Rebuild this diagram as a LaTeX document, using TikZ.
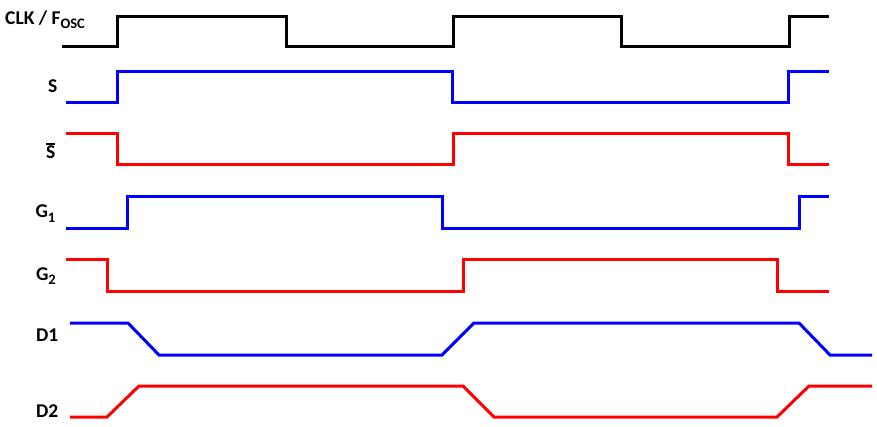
\documentclass[tikz,border=0pt]{standalone}
\usepackage{fontspec}
\setmainfont{Carlito}
\newcommand{\mysub}[1]{\raisebox{-4.5pt}{\fontsize{14.5}{15}\selectfont #1}}
\newcommand{\mybar}[1]{{\setbox0\hbox{#1}\rlap{\rule[\dimexpr\ht0+1.6pt]{\wd0}{1.9pt}}#1}}
\begin{document}
\begin{tikzpicture}[x=1pt,y=-1pt,
  sig/.style={line width=3pt, line join=miter},
  lbl/.style={font=\bfseries\fontsize{19.5}{21}\selectfont, anchor=base east, inner sep=0pt}]
\useasboundingbox (0,0) rectangle (877,427);
% labels
\node[lbl, anchor=base west] (lclk) at (5,24.3) {CLK / F\mysub{OSC}};
\node[lbl] (ls) at (57.5,93) {S};
\node[lbl] (lsb) at (55.5,159) {\mybar{S}};
\node[lbl] (lg1) at (55.5,218) {G\mysub{1}};
\node[lbl] (lg2) at (56,280) {G\mysub{2}};
\node[lbl] (ld1) at (58.5,341) {D1};
\node[lbl] (ld2) at (58.5,417) {D2};
% waveforms
\draw[sig, black] (62,47) -| (117,17) -| (286,47) -| (453,17) -| (621,47) -| (789,17) -- (829,17);
\draw[sig, blue] (66,103) -| (117,72) -| (452,103) -| (788,72) -- (829,72);
\draw[sig, red] (66,134) -| (117,165) -| (453,134) -| (788,165) -- (829,165);
\draw[sig, blue] (66,229) -| (127,197) -| (442,229) -| (799,197) -- (829,197);
\draw[sig, red] (66,260) -| (107,292) -| (463,260) -| (777,292) -- (829,292);
\draw[sig, blue] (70,323) -- (128,323) -- (159,355) -- (442,355) -- (474,323) -- (799,323) -- (830,355) -- (872,355);
\draw[sig, red] (70,417) -- (107,417) -- (139,386) -- (463,386) -- (494,417) -- (777,417) -- (809,386) -- (872,386);
\end{tikzpicture}
\end{document}
